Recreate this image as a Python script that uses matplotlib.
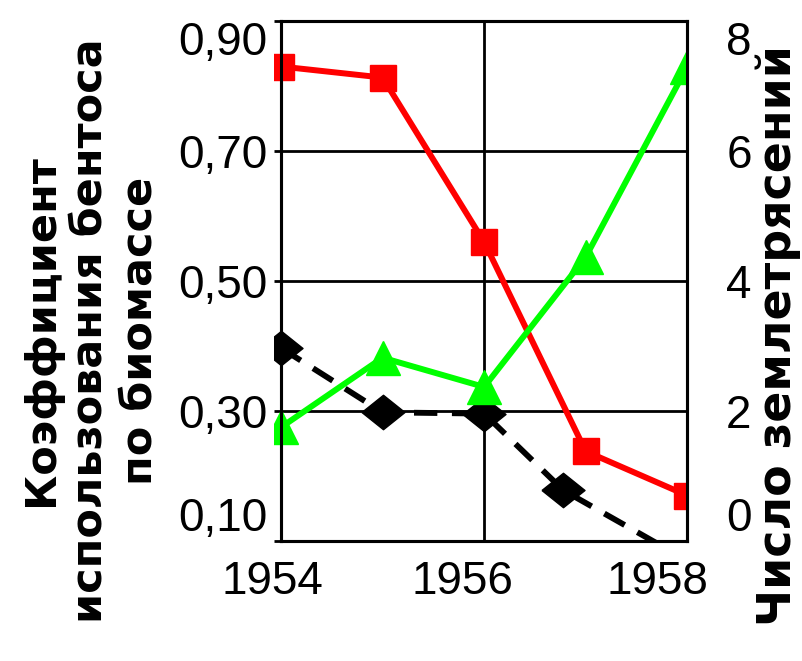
import matplotlib
matplotlib.use("Agg")
import matplotlib.pyplot as plt
import matplotlib.transforms as mtransforms
from matplotlib.patches import Rectangle

plt.rcParams['font.family'] = ['Liberation Sans', 'DejaVu Sans']

# Данные (оценены по картинке)
years_red = [1954, 1955, 1956, 1957, 1958]
red_vals = [0.83, 0.813, 0.56, 0.238, 0.17]        # левая ось

years_black = [1954, 1955, 1956, 1956.78, 1958]
black_vals = [0.397, 0.298, 0.296, 0.178, 0.07]    # левая ось

years_green = [1954, 1955, 1956, 1957, 1958]
green_vals = [1.75, 2.82, 2.37, 4.37, 7.3]         # правая ось

left_ticks = [0.10, 0.30, 0.50, 0.70, 0.90]
left_ticklabels = ['0,10', '0,30', '0,50', '0,70', '0,90']
right_ticks = [0, 2, 4, 6, 8]
x_ticks = [1954, 1956, 1958]

fig = plt.figure(figsize=(8.02, 6.61), dpi=100)
ax = fig.add_axes([0.3504, 0.1815, 0.5066, 0.7867])
ax2 = ax.twinx()

ax.set_xlim(1954, 1958)
ax.set_ylim(0.10, 0.90)
ax2.set_ylim(0, 8)

ax.set_xticks(x_ticks)
ax.set_xticklabels([str(y) for y in x_ticks])
ax.set_yticks(left_ticks)
ax.set_yticklabels(left_ticklabels)
ax2.set_yticks(right_ticks)
ax2.set_yticklabels([str(v) for v in right_ticks])

ax.grid(True, color='black', linewidth=2)
for a in (ax, ax2):
    for s in a.spines.values():
        s.set_linewidth(2.2)
        s.set_color('black')

ax.tick_params(axis='y', direction='out', length=5, width=2, labelsize=33, pad=5)
ax.tick_params(axis='x', length=0, labelsize=33, pad=14)
ax2.tick_params(axis='y', length=0, labelsize=33, pad=28)

# крайние подписи прижаты внутрь
for labs in (ax.get_yticklabels(), ax2.get_yticklabels()):
    labs[0].set_va('bottom')
    labs[-1].set_va('top')

# сдвиг подписей годов влево
for lab, dx in zip(ax.get_xticklabels(), [-9, -22, -30]):
    off = mtransforms.ScaledTranslation(dx / 100, 0, fig.dpi_scale_trans)
    lab.set_transform(lab.get_transform() + off)

clip = Rectangle((-0.017, 0), 1.017, 1, transform=ax.transAxes, visible=False)
ax2.add_patch(clip)

diamond = [(-1, 0), (0, 0.8), (1, 0), (0, -0.8), (-1, 0)]
l1, = ax2.plot(years_black, [v * 10 - 1 for v in black_vals], color='black', lw=4.2,
               dashes=(4, 2.5), marker=diamond, markersize=31)
l2, = ax2.plot(years_red, [v * 10 - 1 for v in red_vals], color='#ff0000', lw=4.3,
               marker='s', markersize=19)
l3, = ax2.plot(years_green, green_vals, color='#00ff00', lw=4.3,
               marker='^', markersize=25)
for l in (l1, l2, l3):
    l.set_clip_path(clip)

fig.text(0.112, 0.5, 'Коэффициент\nиспользования бентоса\nпо биомассе',
         rotation=90, ha='center', va='center', multialignment='center',
         fontsize=31, fontweight='bold', family='DejaVu Sans', linespacing=1.22)
fig.text(0.97, 0.493, 'Число землетрясений', rotation=90, ha='center',
         va='center', fontsize=33, fontweight='bold', family='DejaVu Sans')

fig.savefig('out.png', dpi=100)
